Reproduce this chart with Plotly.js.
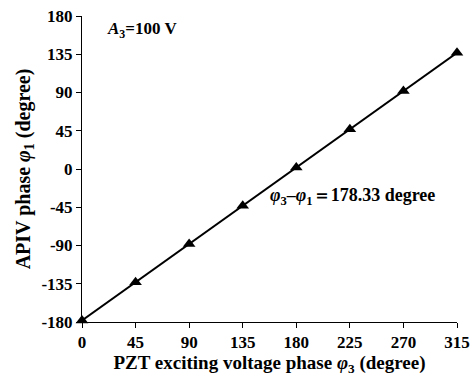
<!DOCTYPE html>
<html>
<head>
<meta charset="utf-8">
<script src="https://cdn.plot.ly/plotly-3.0.1.min.js"></script>
<style>html,body{margin:0;padding:0;background:#fff;}#chart{width:471px;height:380px;}</style>
</head>
<body>
<div id="chart"></div>
<script>
const pztPhase = [0, 45, 90, 135, 180, 225, 270, 315];
const apivPhase = [-178.3, -133.3, -88.3, -43.3, 1.7, 46.7, 91.7, 136.7];
const xTicks = [0, 45, 90, 135, 180, 225, 270, 315];
const yTicks = [-180, -135, -90, -45, 0, 45, 90, 135, 180];

const fam = '"Liberation Serif", "Times New Roman", serif';
const f = (s) => ({family: fam, size: s, color: '#000'});
const fb = (s) => ({family: fam, size: s, color: '#000', weight: 'bold'});

Plotly.newPlot('chart', [{
  x: pztPhase, y: apivPhase,
  mode: 'lines+markers',
  line: {color: '#000', width: 2},
  marker: {symbol: 'triangle-up', size: 11, color: '#000'},
  cliponaxis: false,
  showlegend: false
}], {
  width: 471, height: 380,
  margin: {l: 82, r: 14, t: 16, b: 58},
  paper_bgcolor: '#fff', plot_bgcolor: '#fff',
  font: f(17),
  xaxis: {
    range: [0, 315], tickvals: xTicks, ticktext: xTicks.map(String),
    showgrid: false, zeroline: false, showline: true, linecolor: '#000', linewidth: 1,
    ticks: 'outside', ticklen: 5, tickcolor: '#000',
    tickfont: fb(17),
    title: {text: '<b>PZT exciting voltage phase <i>φ</i><sub>3</sub> (degree)</b>', font: f(19), standoff: 4}
  },
  yaxis: {
    range: [-180, 180], tickvals: yTicks, ticktext: yTicks.map(String),
    showgrid: false, zeroline: false, showline: true, linecolor: '#000', linewidth: 1,
    ticks: 'outside', ticklen: 5, tickcolor: '#000',
    tickfont: fb(17),
    title: {text: '<b>APIV phase <i>φ</i><sub>1</sub> (degree)</b>', font: f(20), standoff: 5}
  },
  annotations: [
    {xref: 'paper', yref: 'paper', x: 0.06, y: 0.955, xanchor: 'left', yanchor: 'middle', showarrow: false,
     text: '<b><i>A</i><sub>3</sub>=100 V</b>', font: f(17)},
    {xref: 'paper', yref: 'paper', x: 0.495, y: 0.41, xanchor: 'left', yanchor: 'middle', showarrow: false,
     text: '<b><i>φ</i><sub>3</sub>–<i>φ</i><sub>1</sub>＝178.33 degree</b>', font: f(18)}
  ]
}, {displayModeBar: false, staticPlot: true});
</script>
</body>
</html>
